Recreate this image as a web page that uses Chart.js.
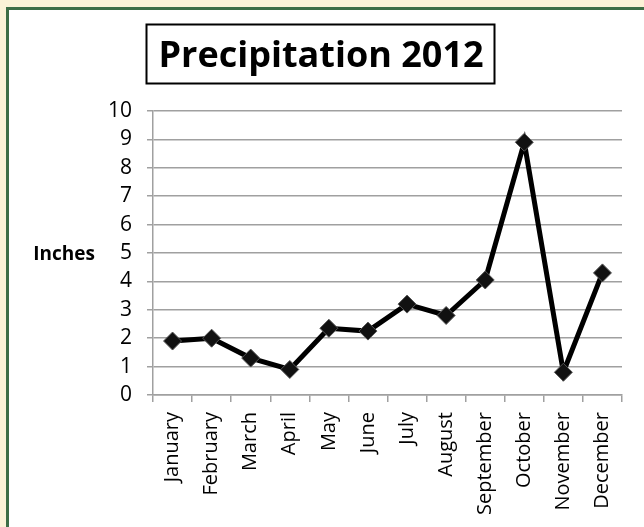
<!DOCTYPE html>
<html>
<head>
<meta charset="utf-8">
<script src="https://cdn.jsdelivr.net/npm/chart.js@4"></script>
<style>
html, body { margin: 0; padding: 0; width: 644px; height: 527px; overflow: hidden; background: #fcf2d7; }
#frame { position: absolute; left: 6px; top: 7px; width: 700px; height: 600px; background: #fff;
         border-left: 3px solid #3e6d46; border-top: 3px solid #3e6d46; }
#wrap { position: absolute; left: 0; top: 0; width: 644px; height: 527px; }
</style>
</head>
<body>
<div id="frame"></div>
<div id="wrap"><canvas id="chart"></canvas></div>
<script>
// Precipitation 2012 - monthly values in inches
const months = ['January', 'February', 'March', 'April', 'May', 'June',
                'July', 'August', 'September', 'October', 'November', 'December'];
const inches = [1.9, 2.0, 1.3, 0.9, 2.35, 2.25, 3.2, 2.8, 4.05, 8.9, 0.8, 4.3];
const yMin = 0;
const yMax = 10;
const yStep = 1;

const title = 'Precipitation 2012';
const yTitle = 'Inches';
const font = '"Open Sans", sans-serif';

// boxed title + horizontal "Inches" label (Excel style)
const extras = {
    id: 'extras',
    afterDraw(chart) {
        const ctx = chart.ctx;
        ctx.save();
        ctx.fillStyle = '#000';
        ctx.textAlign = 'center';
        ctx.textBaseline = 'middle';

        ctx.font = 'bold 36px ' + font;
        const w = ctx.measureText(title).width;
        const cx = 321;
        ctx.fillText(title, cx, 57);
        ctx.strokeStyle = '#000';
        ctx.lineWidth = 2;
        ctx.strokeRect(Math.round(cx - w / 2 - 12) + 0.5, 24.5, Math.round(w + 23), 59);

        ctx.font = 'bold 19px ' + font;
        ctx.fillText(yTitle, 64, chart.scales.y.getPixelForValue(5) + 2);
        ctx.restore();
    }
};

const ctx = document.getElementById('chart');
const chart = new Chart(ctx, {
    type: 'line',
    data: {
        labels: months,
        datasets: [{
            data: inches,
            borderColor: '#000',
            borderWidth: 5,
            tension: 0,
            pointStyle: 'rectRot',
            pointRadius: 9,
            pointBackgroundColor: '#111',
            pointBorderColor: '#555',
            pointBorderWidth: 1,
            clip: false
        }]
    },
    options: {
        responsive: true,
        maintainAspectRatio: false,
        animation: false,
        layout: { padding: { top: 111, right: 22, bottom: 0, left: 0 } },
        plugins: {
            legend: { display: false },
            tooltip: { enabled: false },
            title: { display: false }
        },
        scales: {
            x: {
                offset: true,
                grid: { drawOnChartArea: false, drawTicks: true, tickLength: 7, offset: true, color: '#a0a0a0', lineWidth: 1.5 },
                border: { display: true, color: '#a0a0a0', width: 1.5 },
                ticks: { minRotation: 90, maxRotation: 90, autoSkip: false, color: '#000', padding: 10,
                         font: { family: font, size: 20 } },
                afterFit(scale) { scale.height = 132; }
            },
            y: {
                min: yMin,
                max: yMax,
                grid: { color: '#a0a0a0', lineWidth: 1.5, tickLength: 6 },
                border: { display: true, color: '#a0a0a0', width: 1.5 },
                ticks: { stepSize: yStep, color: '#000', padding: 15, font: { family: font, size: 21 } },
                afterFit(scale) { scale.width = 153; }
            }
        }
    },
    plugins: [extras]
});
</script>
</body>
</html>
